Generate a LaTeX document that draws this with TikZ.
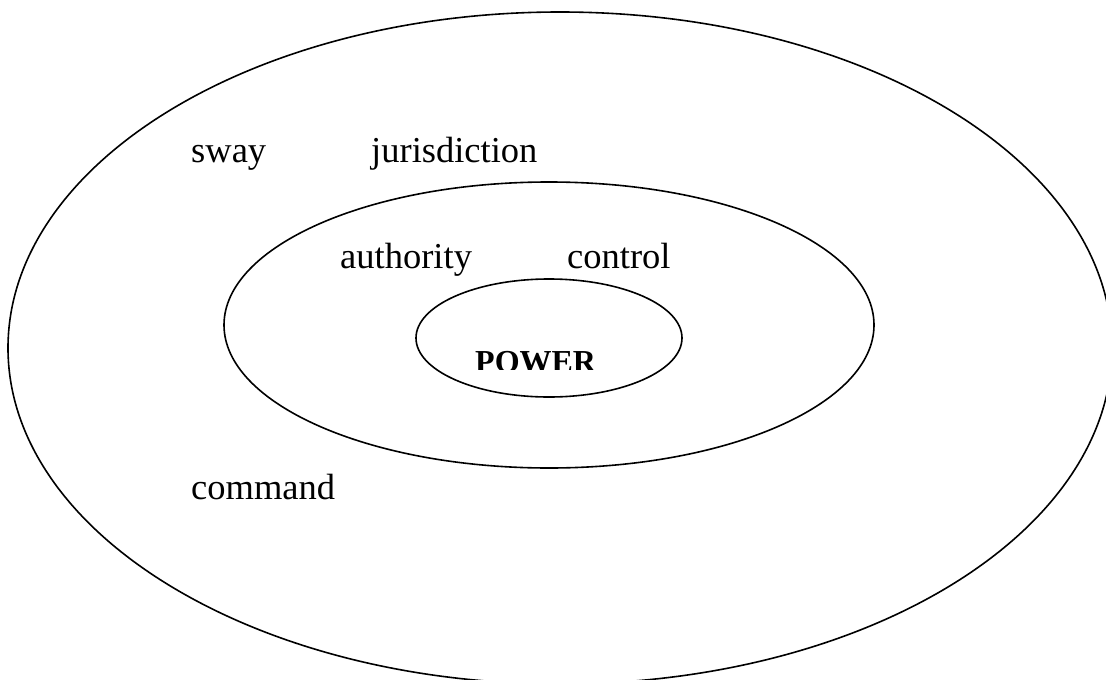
\documentclass[tikz,border=0pt]{standalone}
\usepackage{fontspec}
\setmainfont{Liberation Serif}
\usetikzlibrary{shapes.geometric}
\tikzset{
  ring/.style={draw=black, line width=1.6pt, ellipse, inner sep=0pt},
  word/.style={anchor=base west, inner sep=0pt, font=\fontsize{36.5}{43}\selectfont},
  core/.style={anchor=base west, inner sep=0pt, font=\fontsize{32}{38}\selectfont\bfseries}
}
\begin{document}
\begin{tikzpicture}[x=1pt,y=-1pt]
\useasboundingbox (0,0) rectangle (1106,680);
\clip (0,0) rectangle (1106,680);
\fill[white] (0,0) rectangle (1106,680);
\node[ring, minimum width=1104pt, minimum height=672pt] (outer) at (560,348) {};
\node[ring, minimum width=650pt, minimum height=286pt] (middle) at (549,325) {};
\node[ring, minimum width=266pt, minimum height=118pt] (inner) at (549,338) {};
\node[word] (sway) at (191,162) {sway};
\node[word] (juris) at (371,162) {jurisdiction};
\node[word] (auth) at (340,268) {authority};
\node[word] (ctrl) at (567,268) {control};
\node[word] (cmd) at (191,499) {command};
\begin{scope}
\clip (0,0) rectangle (1106,369);
\node[core] (power) at (475,372) {POWER};
\end{scope}
\end{tikzpicture}
\end{document}
